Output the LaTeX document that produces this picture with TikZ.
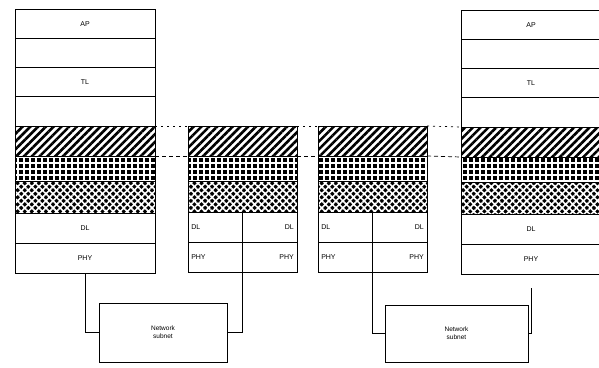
\documentclass[tikz,border=0pt]{standalone}
\usepackage{fontspec}
\setsansfont{Liberation Sans}
\usetikzlibrary{positioning,patterns,patterns.meta}
\tikzset{
  layer/.style={draw, line width=0.8pt, minimum width=140pt,
                minimum height=#1, inner sep=0pt, outer sep=0pt,
                font=\sffamily\fontsize{7}{8}\selectfont},
  layer/.default=29.25pt,
  half/.style ={layer=30pt, minimum width=54.5pt, text width=48pt},
  hatchband/.style={layer=#1,
                pattern={Lines[angle=45,distance=5.5pt,line width=2.6pt]}},
  gridband/.style ={layer=#1, preaction={fill=black}, pattern color=white,
                pattern={Hatch[angle=0,distance=6pt,line width=1.4pt]}},
  checkband/.style={layer=#1, preaction={fill=black}, pattern color=white,
                pattern={Hatch[angle=45,distance=5pt,line width=1.6pt]}},
  subnet/.style={draw, line width=0.8pt, minimum width=128pt,
                 minimum height=59pt, align=center, inner sep=1pt,
                 font=\sffamily\fontsize{6.5}{8}\selectfont},
  link/.style ={line width=0.8pt},
  peertop/.style={line width=0.7pt, dash pattern=on 2pt off 4pt},
  peerbot/.style={line width=0.7pt, dash pattern=on 4pt off 3pt},
}
\begin{document}
\begin{tikzpicture}[x=1pt,y=-1pt]
  \useasboundingbox (0,0) rectangle (599,367);
  % end system, left
  \node[layer, anchor=north west] (lap) at (15,9) {AP};
  \node[layer, below=0pt of lap]  (lsp1) {};
  \node[layer, below=0pt of lsp1] (ltl) {TL};
  \node[layer, below=0pt of ltl]  (lsp2) {};
  \node[hatchband=30pt, below=0pt of lsp2] (lnet) {};
  \node[gridband=25pt,  below=0pt of lnet] (lgrid) {};
  \node[checkband=32pt, below=0pt of lgrid] (lchk) {};
  \node[layer=30pt, below=0pt of lchk] (ldl)  {DL};
  \node[layer=30pt, below=0pt of ldl]  (lphy) {PHY};
  % end system, right
  \node[layer, anchor=north west] (rap) at (461,10) {AP};
  \node[layer, below=0pt of rap]  (rsp1) {};
  \node[layer, below=0pt of rsp1] (rtl) {TL};
  \node[layer, below=0pt of rtl]  (rsp2) {};
  \node[hatchband=30pt, below=0pt of rsp2] (rnet) {};
  \node[gridband=25pt,  below=0pt of rnet] (rgrid) {};
  \node[checkband=32pt, below=0pt of rgrid] (rchk) {};
  \node[layer=30pt, below=0pt of rchk] (rdl)  {DL};
  \node[layer=30pt, below=0pt of rdl]  (rphy) {PHY};
  % router 1
  \node[hatchband=30pt, minimum width=109pt, anchor=north west] (anet) at (188,126) {};
  \node[gridband=25pt,  minimum width=109pt, below=0pt of anet] (agrid) {};
  \node[checkband=31pt, minimum width=109pt, below=0pt of agrid] (achk) {};
  \node[half, align=left,  anchor=north west] (adll) at (achk.south west) {DL};
  \node[half, align=right, anchor=north east] (adlr) at (achk.south east) {DL};
  \node[half, align=left,  below=0pt of adll] (aphyl) {PHY};
  \node[half, align=right, below=0pt of adlr] (aphyr) {PHY};
  % router 2
  \node[hatchband=30pt, minimum width=109pt, anchor=north west] (bnet) at (318,126) {};
  \node[gridband=25pt,  minimum width=109pt, below=0pt of bnet] (bgrid) {};
  \node[checkband=31pt, minimum width=109pt, below=0pt of bgrid] (bchk) {};
  \node[half, align=left,  anchor=north west] (bdll) at (bchk.south west) {DL};
  \node[half, align=right, anchor=north east] (bdlr) at (bchk.south east) {DL};
  \node[half, align=left,  below=0pt of bdll] (bphyl) {PHY};
  \node[half, align=right, below=0pt of bdlr] (bphyr) {PHY};
  % subnets
  \node[subnet] (sub1) at (163,332.5) {Network\\subnet};
  \node[subnet, minimum width=143pt, minimum height=57pt] (sub2) at (456.5,333.5) {Network\\subnet};
  \coordinate (rend) at ([yshift=-14pt]rphy.south);
  % peer lines
  \draw[peertop] (lnet.north east) -- (anet.north west);
  \draw[peertop] (anet.north east) -- (bnet.north west);
  \draw[peertop] (bnet.north east) -- (rnet.north west);
  \draw[peerbot] (lnet.south east) -- (anet.south west);
  \draw[peerbot] (anet.south east) -- (bnet.south west);
  \draw[peerbot] (bnet.south east) -- (rnet.south west);
  % links
  \draw[link] (lphy.south) |- (sub1.west);
  \draw[link] (sub1.east) -| (aphyl.south east);
  \draw[link] (bphyl.south east) |- (sub2.west);
  \draw[link] (sub2.east) -| (rend);
\end{tikzpicture}
\end{document}
